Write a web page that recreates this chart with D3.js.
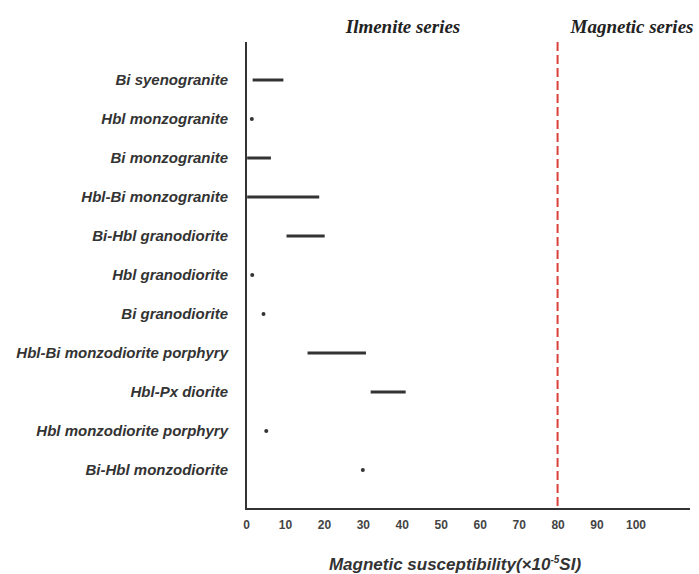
<!DOCTYPE html>
<html>
<head>
<meta charset="utf-8">
<script src="https://cdn.jsdelivr.net/npm/d3@7"></script>
<style>
  html, body { margin: 0; padding: 0; background: #fff; }
  svg { display: block; }
</style>
</head>
<body>
<svg id="chart" width="699" height="574"></svg>
<script>
const categories = [
  "Bi syenogranite",
  "Hbl monzogranite",
  "Bi monzogranite",
  "Hbl-Bi monzogranite",
  "Bi-Hbl granodiorite",
  "Hbl granodiorite",
  "Bi granodiorite",
  "Hbl-Bi monzodiorite porphyry",
  "Hbl-Px diorite",
  "Hbl monzodiorite porphyry",
  "Bi-Hbl monzodiorite"
];
const minValues = [1.7, 1.5, 0.3, 0.3, 10.4, 1.6, 4.5, 15.8, 32.0, 5.2, 30.0];
const maxValues = [9.6, 1.5, 6.4, 18.8, 20.2, 1.6, 4.5, 30.8, 41.0, 5.2, 30.0];
const xTicks = [0, 10, 20, 30, 40, 50, 60, 70, 80, 90, 100];
const threshold = 80;
const seriesLabels = ["Ilmenite series", "Magnetic series"];

const svg = d3.select("#chart");
const x = d3.scaleLinear().domain([0, 114]).range([246, 690]);
const y = d3.scalePoint().domain(categories).range([80, 470]);
const axisY = 509, axisTop = 42;
const ink = "#333";

// X axis labels
const gx = svg.append("g").attr("transform", `translate(0,${axisY})`)
  .call(d3.axisBottom(x).tickValues(xTicks).tickSize(0).tickPadding(11));
gx.select(".domain").remove();
gx.selectAll("text")
  .attr("font-family", "Liberation Sans Narrow, Arial Narrow, Liberation Sans, Arial, sans-serif")
  .attr("font-size", 12).attr("font-weight", "bold").attr("fill", "#444");

// Y axis labels
const gy = svg.append("g").attr("transform", `translate(246,0)`)
  .call(d3.axisLeft(y).tickSize(0).tickPadding(18));
gy.select(".domain").remove();
gy.selectAll("text")
  .attr("font-family", "Liberation Sans, Arial, sans-serif")
  .attr("font-size", 15).attr("font-weight", "bold").attr("font-style", "italic")
  .attr("fill", ink);

// axis lines
svg.append("line").attr("x1", x(0)).attr("x2", x(0)).attr("y1", axisTop).attr("y2", axisY)
  .attr("stroke", ink).attr("stroke-width", 2);
svg.append("line").attr("x1", x(0) - 1).attr("x2", x(114)).attr("y1", axisY).attr("y2", axisY)
  .attr("stroke", ink).attr("stroke-width", 2);

// threshold dashed line
svg.append("line").attr("x1", x(threshold)).attr("x2", x(threshold))
  .attr("y1", axisTop).attr("y2", axisY - 1)
  .attr("stroke", "#d9413a").attr("stroke-width", 2).attr("stroke-dasharray", "9,4");

// ranges
const data = categories.map((c, i) => ({ c, lo: minValues[i], hi: maxValues[i] }));
svg.append("g").selectAll("line").data(data.filter(d => d.hi > d.lo)).join("line")
  .attr("x1", d => x(d.lo)).attr("x2", d => x(d.hi))
  .attr("y1", d => y(d.c)).attr("y2", d => y(d.c))
  .attr("stroke", ink).attr("stroke-width", 3);
svg.append("g").selectAll("circle").data(data.filter(d => d.hi === d.lo)).join("circle")
  .attr("cx", d => x(d.lo)).attr("cy", d => y(d.c)).attr("r", 2).attr("fill", ink);

// series titles
svg.append("text").attr("x", 403).attr("y", 33).attr("text-anchor", "middle")
  .attr("font-family", "Liberation Serif, Times New Roman, serif").attr("font-size", 19)
  .attr("font-weight", "bold").attr("font-style", "italic").attr("fill", "#222")
  .text(seriesLabels[0]);
svg.append("text").attr("x", 632).attr("y", 33).attr("text-anchor", "middle")
  .attr("font-family", "Liberation Serif, Times New Roman, serif").attr("font-size", 19)
  .attr("font-weight", "bold").attr("font-style", "italic").attr("fill", "#222")
  .text(seriesLabels[1]);

// x axis title
const t = svg.append("text").attr("x", 455).attr("y", 570).attr("text-anchor", "middle")
  .attr("font-family", "Liberation Sans, Arial, sans-serif").attr("font-size", 17)
  .attr("font-weight", "bold").attr("font-style", "italic").attr("fill", ink);
t.append("tspan").text("Magnetic susceptibility(×10");
t.append("tspan").attr("font-size", 10).attr("dy", -7).text("-5");
t.append("tspan").attr("dy", 7).text("SI)");
</script>
</body>
</html>
